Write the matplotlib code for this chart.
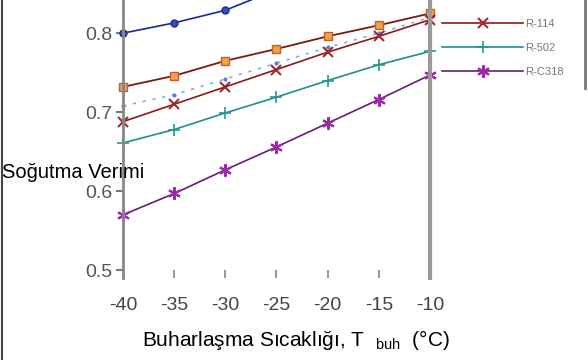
import matplotlib
matplotlib.use("Agg")
import matplotlib.pyplot as plt
from matplotlib.lines import Line2D

plt.rcParams['font.family'] = ['Liberation Sans', 'DejaVu Sans']
plt.rcParams['mathtext.fontset'] = 'custom'
plt.rcParams['mathtext.rm'] = 'Liberation Sans'

# evaporation temperature (°C)
t_buh = [-40, -35, -30, -25, -20, -15, -10]

# cooling efficiency per refrigerant (upper ones are clipped)
blue_top = [0.800, 0.813, 0.829, 0.855, 0.870, 0.885, 0.900]
orange_sq = [0.732, 0.746, 0.765, 0.780, 0.796, 0.810, 0.825]
light_dot = [0.708, 0.722, 0.742, 0.762, 0.782, 0.800, 0.820]
r114 = [0.688, 0.710, 0.732, 0.754, 0.776, 0.796, 0.817]
r502 = [0.661, 0.678, 0.699, 0.719, 0.740, 0.760, 0.777]
rc318 = [0.570, 0.597, 0.627, 0.656, 0.686, 0.716, 0.747]

legend_labels = ['R-114', 'R-502', 'R-C318']
x_ticks = [-40, -35, -30, -25, -20, -15, -10]
x_ticklabels = ['-40', '-35', '-30', '-25', '-20', '-15', '-10']
y_ticks = [0.5, 0.6, 0.7, 0.8]

fig = plt.figure(figsize=(5.88, 3.6), dpi=100)
ax = fig.add_axes([123 / 588, 1 - 278 / 360, (430 - 123) / 588, 278 / 360])

ax.plot(t_buh, blue_top, color='#1c2a8a', lw=1.2, marker='o', ms=5,
        mfc='#3a4fb5', mec='#1c2a8a', clip_on=False)
ax.plot(t_buh, orange_sq, color='#7a1a10', lw=1.3, marker='s', ms=6,
        mfc='#f3a04a', mec='#c0602a', clip_on=False)
ax.plot(t_buh, light_dot, color='#7fb4de', lw=1.2, ls=(0, (2, 4)), marker='.',
        ms=4, mfc='#5b7fcf', mec='#5b7fcf', clip_on=False)
l1, = ax.plot(t_buh, r114, color='#8a1c14', lw=1.2, marker='x', ms=7, mew=1.5,
              mec='#a02a30', clip_on=False)
l2, = ax.plot(t_buh, r502, color='#1f9090', lw=1.2, marker='+', ms=8, mew=1.2,
              mec='#209a90', clip_on=False)
l3, = ax.plot(t_buh, rc318, color='#6a1a78', lw=1.2, marker=(6, 2, 0), ms=9,
              mew=1.5, mec='#9a2aa8', clip_on=False)

ax.set_xlim(-40, -10)
ax.set_ylim(0.49, 0.842)

for s in ['top', 'bottom']:
    ax.spines[s].set_visible(False)
ax.spines['left'].set_color('#888888')
ax.spines['left'].set_linewidth(2)
ax.spines['right'].set_color('#9a9a9a')
ax.spines['right'].set_linewidth(3)

ax.set_xticks(x_ticks)
ax.set_xticklabels(x_ticklabels)
ax.set_yticks(y_ticks)
ax.set_yticklabels(['0.5', '0.6', '0.7', '0.8'])
ax.tick_params(axis='x', direction='in', length=6, width=1.5, color='#999999',
               pad=14, labelsize=14, labelcolor='#444444')
ax.tick_params(axis='y', direction='out', length=5, width=1.5, color='#777777',
               pad=3, labelsize=14, labelcolor='#555555')

leg = ax.legend([l1, l2, l3], legend_labels, loc='upper left',
                bbox_to_anchor=(442 / 588, 1 - 19 / 360), bbox_transform=fig.transFigure,
                frameon=False, fontsize=8, handlelength=7.3, handletextpad=0.2,
                labelspacing=1.25, borderaxespad=0, borderpad=0)
for txt in leg.get_texts():
    txt.set_color('#777777')

# legend box edge and outer frame line
fig.add_artist(Line2D([585 / 588, 585 / 588], [1, 1 - 88 / 360], color='#777777', lw=2))
fig.add_artist(Line2D([2 / 588, 2 / 588], [0, 1], color='#444444', lw=1.5))

fig.text(2 / 588, 1 - 172 / 360, 'Soğutma Verimi', ha='left', va='center', fontsize=14.5)
fig.text(296 / 588, 1 - 340 / 360, 'Buharlaşma Sıcaklığı, T  $_{\\mathrm{buh}}$  (°C)',
         ha='center', va='center', fontsize=15)

fig.savefig('out.png', dpi=100)
